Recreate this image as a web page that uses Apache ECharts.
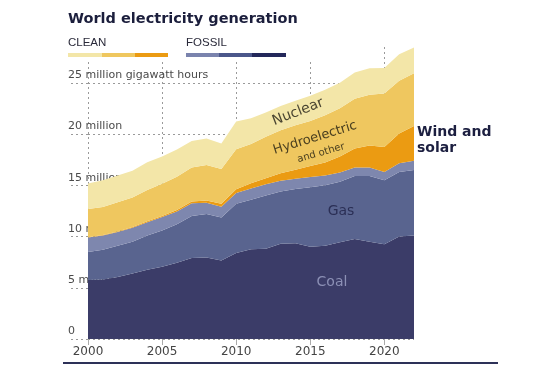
<!DOCTYPE html>
<html><head><meta charset="utf-8">
<script src="https://cdn.jsdelivr.net/npm/echarts@6/dist/echarts.min.js"></script>
<style>html,body{margin:0;padding:0;background:#fff}#c{width:536px;height:375px}</style>
</head><body><div id="c"></div>
<script>
// Years (categories)
const years = ['2000','2001','2002','2003','2004','2005','2006','2007','2008','2009','2010','2011','2012','2013','2014','2015','2016','2017','2018','2019','2020','2021','2022'];
// Generation, million gigawatt hours (stacked bottom to top)
const coal    = [5.75,5.8,6.05,6.4,6.75,7.05,7.45,7.9,7.95,7.65,8.4,8.75,8.8,9.3,9.35,9.0,9.1,9.45,9.75,9.5,9.25,10.0,10.1];
const gas     = [2.75,2.9,3.05,3.1,3.35,3.55,3.75,4.1,4.25,4.2,4.8,4.85,5.2,5.1,5.3,5.8,5.9,5.9,6.15,6.4,6.25,6.3,6.4];
const oil     = [1.4,1.4,1.35,1.35,1.3,1.3,1.25,1.25,1.1,1.05,1.05,1.1,1.1,1.05,1.0,1.0,0.95,0.9,0.85,0.85,0.8,0.85,0.9];
const windSolar = [0.03,0.04,0.05,0.07,0.09,0.11,0.14,0.18,0.23,0.29,0.37,0.49,0.6,0.73,0.86,1.08,1.28,1.57,1.85,2.13,2.45,2.9,3.4];
const hydroOther = [2.75,2.75,2.85,2.9,3.05,3.15,3.25,3.3,3.45,3.4,3.9,3.85,4.05,4.2,4.35,4.4,4.6,4.7,4.85,4.95,5.2,5.15,5.15];
const nuclear = [2.5,2.6,2.6,2.6,2.7,2.65,2.65,2.6,2.6,2.5,2.7,2.5,2.35,2.35,2.4,2.45,2.5,2.5,2.55,2.6,2.5,2.6,2.5];
// Y tick labels
const yTickValues = [0,5,10,15,20,25];
const yTickLabels = ['0','5 million','10 million','15 million','20 million','25 million gigawatt hours'];

const colors = {
  coal:'#3b3c68', gas:'#59648f', oil:'#7e87ae', wind:'#eb9b12', hydro:'#efc75f', nuclear:'#f3e6a8'
};
function area(name, data, color){
  return {name, type:'line', stack:'total', data, symbol:'none', showSymbol:false,
    lineStyle:{width:0}, areaStyle:{color, opacity:1}, z:3, silent:true};
}
const chart = echarts.init(document.getElementById('c'), null, {renderer:'canvas'});
const grid = '#9a9a9a';
chart.setOption({
  animation:false,
  backgroundColor:'#fff',
  grid:{left:88, right:122, top:47, bottom:36},
  xAxis:{type:'category', data:years, boundaryGap:false,
    axisLine:{show:false},
    axisTick:{show:true, interval:4, length:6, lineStyle:{color:'#aaa'}},
    axisLabel:{interval:4, color:'#444', fontFamily:'DejaVu Sans', fontSize:12, margin:7},
    splitLine:{show:true, interval:4, lineStyle:{color:grid, type:[2,3], width:1}}
  },
  yAxis:{type:'value', min:0, max:28.5, interval:5,
    axisLine:{show:false},
    axisTick:{show:true, length:20, lineStyle:{color:grid, type:[2,3]}},
    axisLabel:{align:'left', margin:20, verticalAlign:'bottom', padding:[0,0,2,0],
      color:'#4a4a4a', fontFamily:'DejaVu Sans', fontSize:11,
      formatter:v=>{const i=yTickValues.indexOf(v); return i>=0?yTickLabels[i]:'';}},
    splitLine:{show:true, lineStyle:{color:[grid,grid,grid,grid,grid,grid,'rgba(0,0,0,0)'], type:[2,3], width:1}}
  },
  series:[
    area('Coal', coal, colors.coal),
    area('Gas', gas, colors.gas),
    area('Oil', oil, colors.oil),
    area('Wind and solar', windSolar, colors.wind),
    area('Hydroelectric and other', hydroOther, colors.hydro),
    area('Nuclear', nuclear, colors.nuclear)
  ],
  graphic:[
    {type:'rect', z:5, shape:{x:58, y:38, width:272, height:24}, style:{fill:'#fff'}},
    {type:'text', z:10, left:68, top:12, style:{text:'World electricity generation', font:'bold 14.5px "DejaVu Sans"', fill:'#1b1e3c'}},
    {type:'text', z:10, left:68, top:37, style:{text:'CLEAN', font:'11.5px "Liberation Sans"', fill:'#2a2a3a'}},
    {type:'text', z:10, left:186, top:37, style:{text:'FOSSIL', font:'11.5px "Liberation Sans"', fill:'#2a2a3a'}},
    {type:'rect', z:10, shape:{x:68, y:53, width:34, height:4}, style:{fill:colors.nuclear}},
    {type:'rect', z:10, shape:{x:102, y:53, width:33, height:4}, style:{fill:colors.hydro}},
    {type:'rect', z:10, shape:{x:135, y:53, width:33, height:4}, style:{fill:colors.wind}},
    {type:'rect', z:10, shape:{x:186, y:53, width:33, height:4}, style:{fill:'#7a83ad'}},
    {type:'rect', z:10, shape:{x:219, y:53, width:33, height:4}, style:{fill:'#4b578a'}},
    {type:'rect', z:10, shape:{x:252, y:53, width:34, height:4}, style:{fill:'#23285a'}},
    {type:'text', z:10, x:298, y:112, rotation:0.37, style:{text:'Nuclear', font:'14px "DejaVu Sans"', fill:'#4b4632', align:'center', verticalAlign:'middle'}},
    {type:'text', z:10, x:315, y:138, rotation:0.30, style:{text:'Hydroelectric', font:'13px "DejaVu Sans"', fill:'#4b4020', align:'center', verticalAlign:'middle'}},
    {type:'text', z:10, x:321, y:153, rotation:0.28, style:{text:'and other', font:'10px "DejaVu Sans"', fill:'#4b4020', align:'center', verticalAlign:'middle'}},
    {type:'text', z:10, x:341, y:211, style:{text:'Gas', font:'14px "DejaVu Sans"', fill:'#2b2f55', align:'center', verticalAlign:'middle'}},
    {type:'text', z:10, x:332, y:282, style:{text:'Coal', font:'14px "DejaVu Sans"', fill:'#8c90b5', align:'center', verticalAlign:'middle'}},
    {type:'text', z:10, left:417, top:124, style:{text:'Wind and\nsolar', font:'bold 14px "DejaVu Sans"', fill:'#1c1f40', lineHeight:16}},
    {type:'line', z:10, shape:{x1:63, y1:363, x2:498, y2:363}, style:{stroke:'#2d3158', lineWidth:2}}
  ]
});
</script></body></html>
